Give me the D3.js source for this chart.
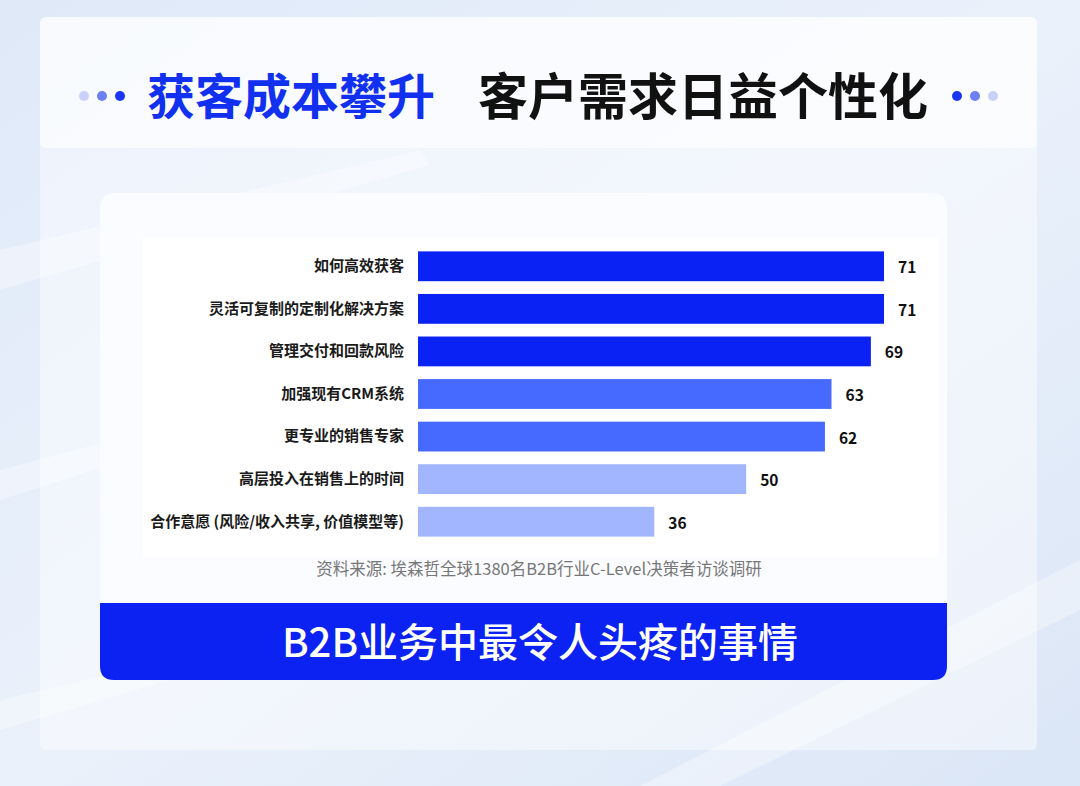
<!DOCTYPE html>
<html>
<head>
<meta charset="utf-8">
<script src="https://cdn.jsdelivr.net/npm/d3@7"></script>
<style>
  html, body { margin: 0; padding: 0; background: #e4edf9; }
  svg { display: block; font-family: "Noto Sans CJK SC", "Noto Sans", sans-serif; }
</style>
</head>
<body>
<div id="chart"></div>
<script>
const categories = [
  '如何高效获客',
  '灵活可复制的定制化解决方案',
  '管理交付和回款风险',
  '加强现有CRM系统',
  '更专业的销售专家',
  '高层投入在销售上的时间',
  '合作意愿 (风险/收入共享, 价值模型等)',
];
const values = [71, 71, 69, 63, 62, 50, 36];

const titleBlue = '获客成本攀升';
const titleBlack = '客户需求日益个性化';
const sourceNote = '资料来源: 埃森哲全球1380名B2B行业C-Level决策者访谈调研';
const bannerText = 'B2B业务中最令人头疼的事情';

const W = 1080, H = 786;
const svg = d3.select('#chart').append('svg').attr('width', W).attr('height', H);
const defs = svg.append('defs');

// background
const bg = defs.append('linearGradient').attr('id', 'bg').attr('x1', 0).attr('y1', 0).attr('x2', 1).attr('y2', 1);
bg.append('stop').attr('offset', '0%').attr('stop-color', '#dfe9f8');
bg.append('stop').attr('offset', '50%').attr('stop-color', '#eaf1fb');
bg.append('stop').attr('offset', '100%').attr('stop-color', '#dbe6f6');
svg.append('rect').attr('width', W).attr('height', H).attr('fill', 'url(#bg)');

// soft diagonal streaks
const streaks = [
  [[0, 250], [420, 150], [430, 165], [0, 290]],
  [[0, 470], [300, 390], [310, 400], [0, 500]],
  [[640, 786], [1080, 560], [1080, 610], [720, 786]],
  [[0, 700], [260, 640], [270, 650], [0, 730]],
];
svg.selectAll('path.streak').data(streaks).enter().append('path')
  .attr('d', d => 'M' + d.join('L') + 'Z')
  .attr('fill', '#ffffff').attr('opacity', 0.35);

// outer panel
svg.append('rect').attr('x', 40).attr('y', 17).attr('width', 997).attr('height', 733).attr('rx', 6)
  .attr('fill', '#ffffff').attr('opacity', 0.45);
svg.append('rect').attr('x', 40).attr('y', 17).attr('width', 997).attr('height', 131).attr('rx', 6)
  .attr('fill', '#ffffff').attr('opacity', 0.6);

// title
svg.append('text').attr('x', 147).attr('y', 93).attr('dominant-baseline', 'central')
  .attr('font-size', 48).attr('font-weight', 700).attr('fill', '#1230f0').text(titleBlue);
svg.append('text').attr('x', 478).attr('y', 93).attr('dominant-baseline', 'central')
  .attr('font-size', 50).attr('font-weight', 700).attr('fill', '#111111').text(titleBlack);

const dotColors = ['#c9d1fb', '#6c80f4', '#1a36f0'];
[[84, 102, 120], [993, 975, 957]].forEach(xs => {
  xs.forEach((x, i) => {
    svg.append('circle').attr('cx', x).attr('cy', 96).attr('r', 5).attr('fill', dotColors[i]);
  });
});

// card
svg.append('rect').attr('x', 100).attr('y', 193).attr('width', 847).attr('height', 487).attr('rx', 14)
  .attr('fill', '#fbfcff');
svg.append('rect').attr('x', 143).attr('y', 238).attr('width', 795).attr('height', 320)
  .attr('fill', '#ffffff');

// bars
const x = d3.scaleLinear().domain([0, 71]).range([418, 884]);
const y = d3.scaleBand().domain(categories).range([245, 543]).paddingInner(0.3).paddingOuter(0.15);
const color = d3.scaleThreshold().domain([55, 65]).range(['#a2b5ff', '#4669ff', '#0b22f4']);

const rows = categories.map((c, i) => ({ cat: c, val: values[i] }));

svg.selectAll('rect.bar').data(rows).enter().append('rect')
  .attr('class', 'bar')
  .attr('x', x(0)).attr('y', d => y(d.cat))
  .attr('width', d => x(d.val) - x(0)).attr('height', y.bandwidth())
  .attr('fill', d => color(d.val));

svg.selectAll('text.val').data(rows).enter().append('text')
  .attr('x', d => x(d.val) + 14).attr('y', d => y(d.cat) + y.bandwidth() / 2)
  .attr('dominant-baseline', 'central')
  .attr('font-size', 15.5).attr('font-weight', 700).attr('fill', '#111111')
  .text(d => d.val);

const yAxis = svg.append('g').attr('transform', `translate(${x(0)},0)`)
  .call(d3.axisLeft(y).tickSize(0).tickPadding(14));
yAxis.select('.domain').remove();
yAxis.selectAll('text')
  .attr('font-size', 15).attr('font-weight', 700).attr('fill', '#1a1a1a')
  .style('font-family', '"Noto Sans CJK SC", sans-serif');

// source
svg.append('text').attr('x', 539).attr('y', 568).attr('text-anchor', 'middle').attr('dominant-baseline', 'central')
  .attr('font-size', 16.5).attr('fill', '#777777').text(sourceNote);

// banner with rounded bottom corners
const bx = 100, by = 603, bw = 847, bh = 77, r = 14;
svg.append('path')
  .attr('d', `M${bx},${by}H${bx + bw}V${by + bh - r}Q${bx + bw},${by + bh} ${bx + bw - r},${by + bh}H${bx + r}Q${bx},${by + bh} ${bx},${by + bh - r}Z`)
  .attr('fill', '#0b22f2');
svg.append('text').attr('x', 540).attr('y', 640).attr('text-anchor', 'middle').attr('dominant-baseline', 'central')
  .attr('font-size', 40).attr('font-weight', 500).attr('fill', '#ffffff').text(bannerText);
</script>
</body>
</html>
